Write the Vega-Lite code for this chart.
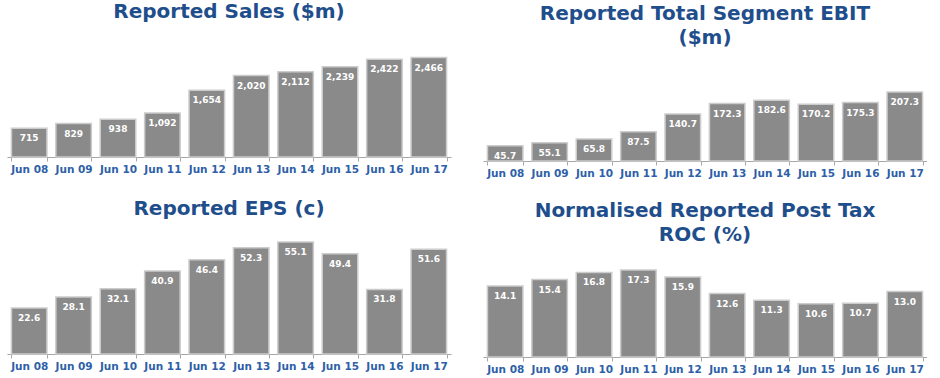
{
  "$schema": "https://vega.github.io/schema/vega-lite/v6.json",
  "background": "white",
  "padding": {"left": 7, "top": 2, "right": 0, "bottom": 0},
  "columns": 2,
  "bounds": "flush",
  "spacing": {"column": 32, "row": 75},
  "config": {
    "view": {"stroke": null},
    "font": "DejaVu Sans",
    "title": {"font": "DejaVu Sans", "fontSize": 20, "fontWeight": "bold", "color": "#1F4E8C", "anchor": "middle", "lineHeight": 24},
    "axisX": {"domainColor": "#A6A6A6", "tickColor": "#A6A6A6", "tickBand": "extent", "tickSize": 4, "labelAngle": 0, "labelColor": "#2E5FA8", "labelFont": "DejaVu Sans", "labelFontWeight": "bold", "labelFontSize": 10.5, "labelPadding": 3, "title": null},
    "bar": {"fill": "#8A8A8A", "stroke": "#CCCCCC", "strokeWidth": 1.5},
    "text": {"color": "white", "font": "DejaVu Sans", "fontWeight": "bold", "fontSize": 9, "baseline": "middle", "dy": 10}
  },
  "concat": [
    {
      "title": {"text": "Reported Sales ($m)", "offset": 31},
      "width": 444, "height": 104,
      "data": {"values": [
        {"year": "Jun 08", "v": 715}, {"year": "Jun 09", "v": 829}, {"year": "Jun 10", "v": 938},
        {"year": "Jun 11", "v": 1092}, {"year": "Jun 12", "v": 1654}, {"year": "Jun 13", "v": 2020},
        {"year": "Jun 14", "v": 2112}, {"year": "Jun 15", "v": 2239}, {"year": "Jun 16", "v": 2422},
        {"year": "Jun 17", "v": 2466}
      ]},
      "encoding": {
        "x": {"field": "year", "type": "nominal", "sort": null, "scale": {"paddingInner": 0.2, "paddingOuter": 0.1}},
        "y": {"field": "v", "type": "quantitative", "scale": {"domain": [0, 2580], "nice": false}, "axis": null}
      },
      "layer": [
        {"mark": {"type": "bar"}},
        {"mark": {"type": "text"}, "encoding": {"text": {"field": "v", "type": "quantitative", "format": ","}}}
      ]
    },
    {
      "title": {"text": ["Reported Total Segment EBIT", "($m)"], "offset": 5},
      "width": 444, "height": 108,
      "data": {"values": [
        {"year": "Jun 08", "v": 45.7}, {"year": "Jun 09", "v": 55.1}, {"year": "Jun 10", "v": 65.8},
        {"year": "Jun 11", "v": 87.5}, {"year": "Jun 12", "v": 140.7}, {"year": "Jun 13", "v": 172.3},
        {"year": "Jun 14", "v": 182.6}, {"year": "Jun 15", "v": 170.2}, {"year": "Jun 16", "v": 175.3},
        {"year": "Jun 17", "v": 207.3}
      ]},
      "encoding": {
        "x": {"field": "year", "type": "nominal", "sort": null, "scale": {"paddingInner": 0.2, "paddingOuter": 0.1}},
        "y": {"field": "v", "type": "quantitative", "scale": {"domain": [0, 324], "nice": false}, "axis": null}
      },
      "layer": [
        {"mark": {"type": "bar"}},
        {"mark": {"type": "text"}, "encoding": {"text": {"field": "v", "type": "quantitative", "format": ".1f"}}}
      ]
    },
    {
      "title": {"text": "Reported EPS (c)", "offset": 17},
      "width": 444, "height": 118,
      "data": {"values": [
        {"year": "Jun 08", "v": 22.6}, {"year": "Jun 09", "v": 28.1}, {"year": "Jun 10", "v": 32.1},
        {"year": "Jun 11", "v": 40.9}, {"year": "Jun 12", "v": 46.4}, {"year": "Jun 13", "v": 52.3},
        {"year": "Jun 14", "v": 55.1}, {"year": "Jun 15", "v": 49.4}, {"year": "Jun 16", "v": 31.8},
        {"year": "Jun 17", "v": 51.6}
      ]},
      "encoding": {
        "x": {"field": "year", "type": "nominal", "sort": null, "scale": {"paddingInner": 0.2, "paddingOuter": 0.1}},
        "y": {"field": "v", "type": "quantitative", "scale": {"domain": [0, 58.1], "nice": false}, "axis": null}
      },
      "layer": [
        {"mark": {"type": "bar"}},
        {"mark": {"type": "text"}, "encoding": {"text": {"field": "v", "type": "quantitative", "format": ".1f"}}}
      ]
    },
    {
      "title": {"text": ["Normalised Reported Post Tax", "ROC (%)"], "offset": -9},
      "width": 444, "height": 121,
      "data": {"values": [
        {"year": "Jun 08", "v": 14.1}, {"year": "Jun 09", "v": 15.4}, {"year": "Jun 10", "v": 16.8},
        {"year": "Jun 11", "v": 17.3}, {"year": "Jun 12", "v": 15.9}, {"year": "Jun 13", "v": 12.6},
        {"year": "Jun 14", "v": 11.3}, {"year": "Jun 15", "v": 10.6}, {"year": "Jun 16", "v": 10.7},
        {"year": "Jun 17", "v": 13.0}
      ]},
      "encoding": {
        "x": {"field": "year", "type": "nominal", "sort": null, "scale": {"paddingInner": 0.2, "paddingOuter": 0.1}},
        "y": {"field": "v", "type": "quantitative", "scale": {"domain": [0, 24.05], "nice": false}, "axis": null}
      },
      "layer": [
        {"mark": {"type": "bar"}},
        {"mark": {"type": "text"}, "encoding": {"text": {"field": "v", "type": "quantitative", "format": ".1f"}}}
      ]
    }
  ]
}
